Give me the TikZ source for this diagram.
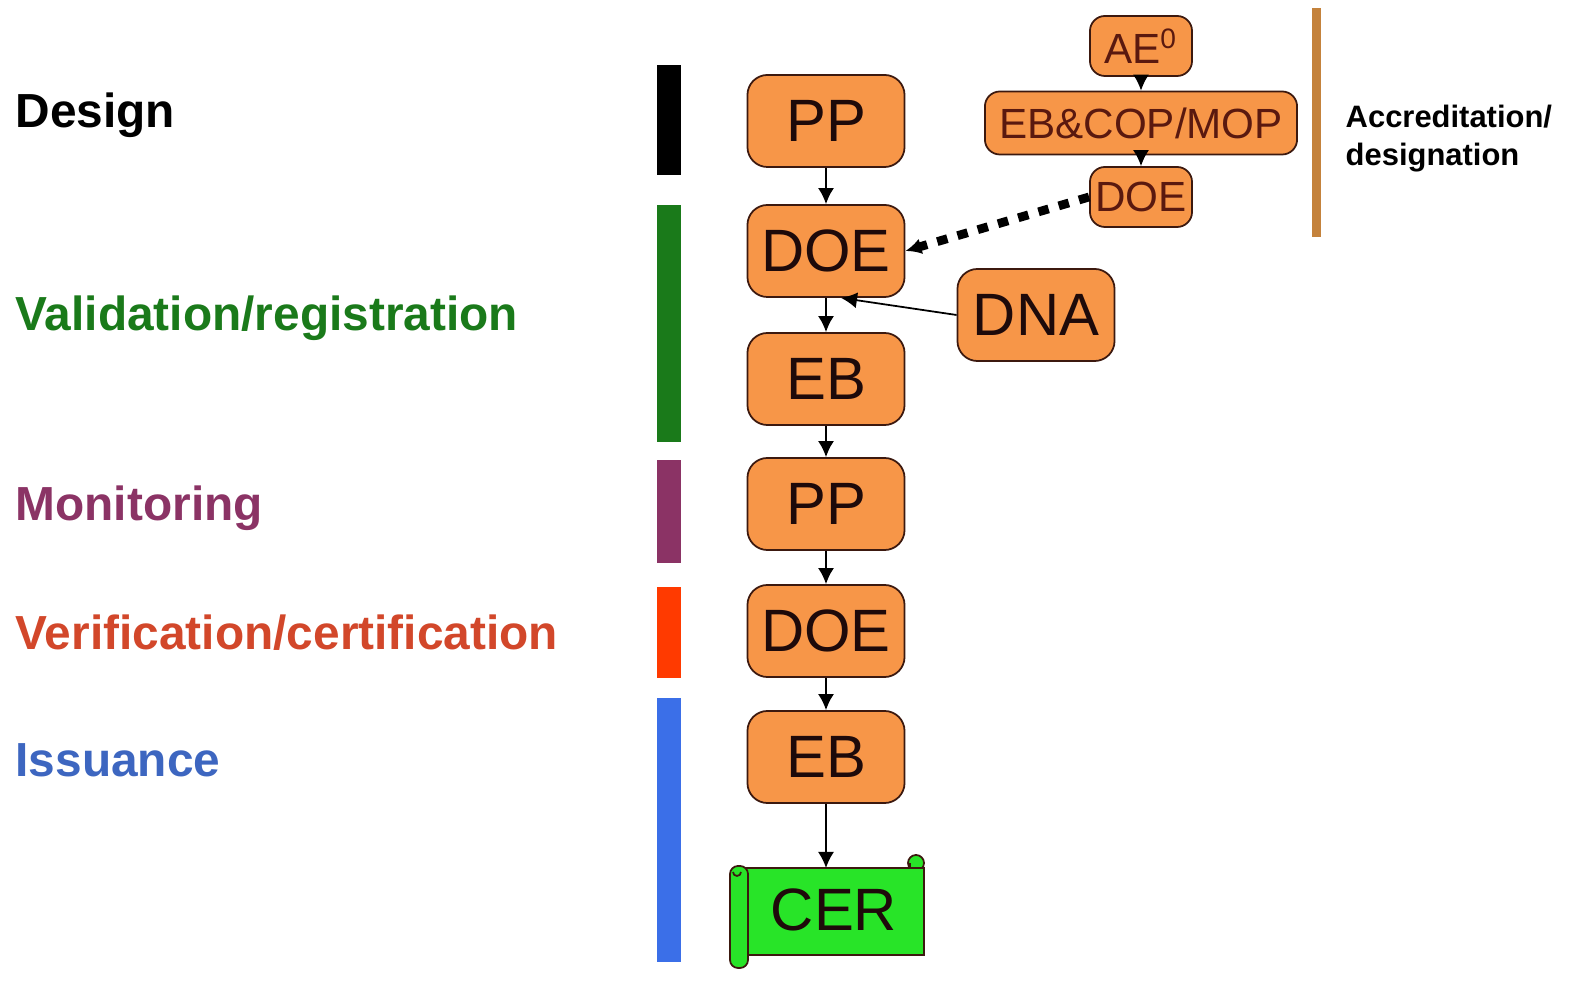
\documentclass[tikz,border=0pt]{standalone}
\usepackage{fontspec}
\setmainfont{Liberation Sans}
\usetikzlibrary{arrows.meta}

\definecolor{boxorange}{RGB}{247,150,72}
\definecolor{boxline}{RGB}{60,25,15}
\definecolor{boxtext}{RGB}{30,10,10}
\definecolor{toptext}{RGB}{90,25,15}
\definecolor{cergreen}{RGB}{40,228,40}
\definecolor{valgreen}{RGB}{26,122,26}
\definecolor{monpurple}{RGB}{139,51,101}
\definecolor{vertext}{RGB}{210,71,42}
\definecolor{verbar}{RGB}{255,58,0}
\definecolor{isstext}{RGB}{61,102,192}
\definecolor{issbar}{RGB}{59,111,232}
\definecolor{accbrown}{RGB}{196,130,60}

\tikzset{
  phase/.style={draw=boxline, fill=boxorange, rounded corners=2mm, line width=0.5pt,
    minimum width=1.57cm, minimum height=0.92cm, inner sep=0pt, text=boxtext,
    font=\fontsize{17}{20}\selectfont},
  acc/.style={draw=boxline, fill=boxorange, rounded corners=1.5mm, line width=0.5pt,
    minimum width=1.02cm, minimum height=0.6cm, inner sep=0pt, text=toptext,
    font=\fontsize{12}{14}\selectfont},
  lbl/.style={anchor=west, inner sep=0pt, font=\bfseries\fontsize{13.6}{16}\selectfont},
  arr/.style={-{Latex[length=1.6mm,width=1.6mm]}, line width=0.5pt, black}
}

\begin{document}
\begin{tikzpicture}[x=0.01cm,y=-0.01cm]
\useasboundingbox (0,0) rectangle (1593,986);
% phase labels
\node[lbl] (design) at (15,115) {Design};
\node[lbl, text=valgreen] (valid) at (15,318) {Validation/registration};
\node[lbl, text=monpurple] (monit) at (15,508) {Monitoring};
\node[lbl, text=vertext] (verif) at (15,633) {Verification/certification};
\node[lbl, text=isstext] (issue) at (15,760) {Issuance};
% phase bars
\fill[black] (657,65) rectangle (681,175);
\fill[valgreen] (657,205) rectangle (681,442);
\fill[monpurple] (657,460) rectangle (681,563);
\fill[verbar] (657,587) rectangle (681,678);
\fill[issbar] (657,698) rectangle (681,962);
% project cycle
\node[phase] (pp1) at (826,121) {PP};
\node[phase] (doe1) at (826,251) {DOE};
\node[phase] (eb1) at (826,379) {EB};
\node[phase] (pp2) at (826,504) {PP};
\node[phase] (doe2) at (826,631) {DOE};
\node[phase] (eb2) at (826,757) {EB};
\node[phase] (dna) at (1036,315) {DNA};
% CER scroll
\draw[boxline, fill=cergreen, line width=0.5pt] (916,863) circle (8);
\draw[boxline, fill=cergreen, line width=0.5pt] (745,868) rectangle (924,955);
\draw[boxline, line width=0.5pt] (910,868) -- (910,863);
\draw[boxline, fill=cergreen, line width=0.5pt, rounded corners=0.8mm] (730,866) rectangle (748,968);
\draw[boxline, line width=0.5pt] (733,872) arc (180:0:4);
\node[text=boxtext, font=\fontsize{17}{20}\selectfont, inner sep=0pt] (cer) at (834,910) {CER};
% accreditation
\node[acc] (ae) at (1141,46) {AE\textsuperscript{0}};
\node[acc, minimum width=3.12cm, minimum height=0.63cm] (cop) at (1141,123) {EB\&COP/MOP};
\node[acc] (doe0) at (1141,197) {DOE};
\fill[accbrown] (1312,8) rectangle (1321,237);
\node[anchor=north west, inner sep=0pt, align=left, font=\bfseries\fontsize{8.8}{11}\selectfont] (acctxt) at (1345,104) {Accreditation/\\designation};
% connectors
\coordinate (certop) at (826,868);
\draw[arr] (pp1) -- (doe1);
\draw[arr] (doe1) -- (eb1);
\draw[arr] (eb1) -- (pp2);
\draw[arr] (pp2) -- (doe2);
\draw[arr] (doe2) -- (eb2);
\draw[arr] (eb2) -- (certop);
\draw[arr] (ae) -- (cop);
\draw[arr] (cop) -- (doe0);
\draw[arr, line width=2.5pt, dash pattern=on 3pt off 3pt] (doe0.west) -- (doe1.east);
\draw[arr] (dna.west) -- ([xshift=0.15cm]doe1.south);
\end{tikzpicture}
\end{document}
